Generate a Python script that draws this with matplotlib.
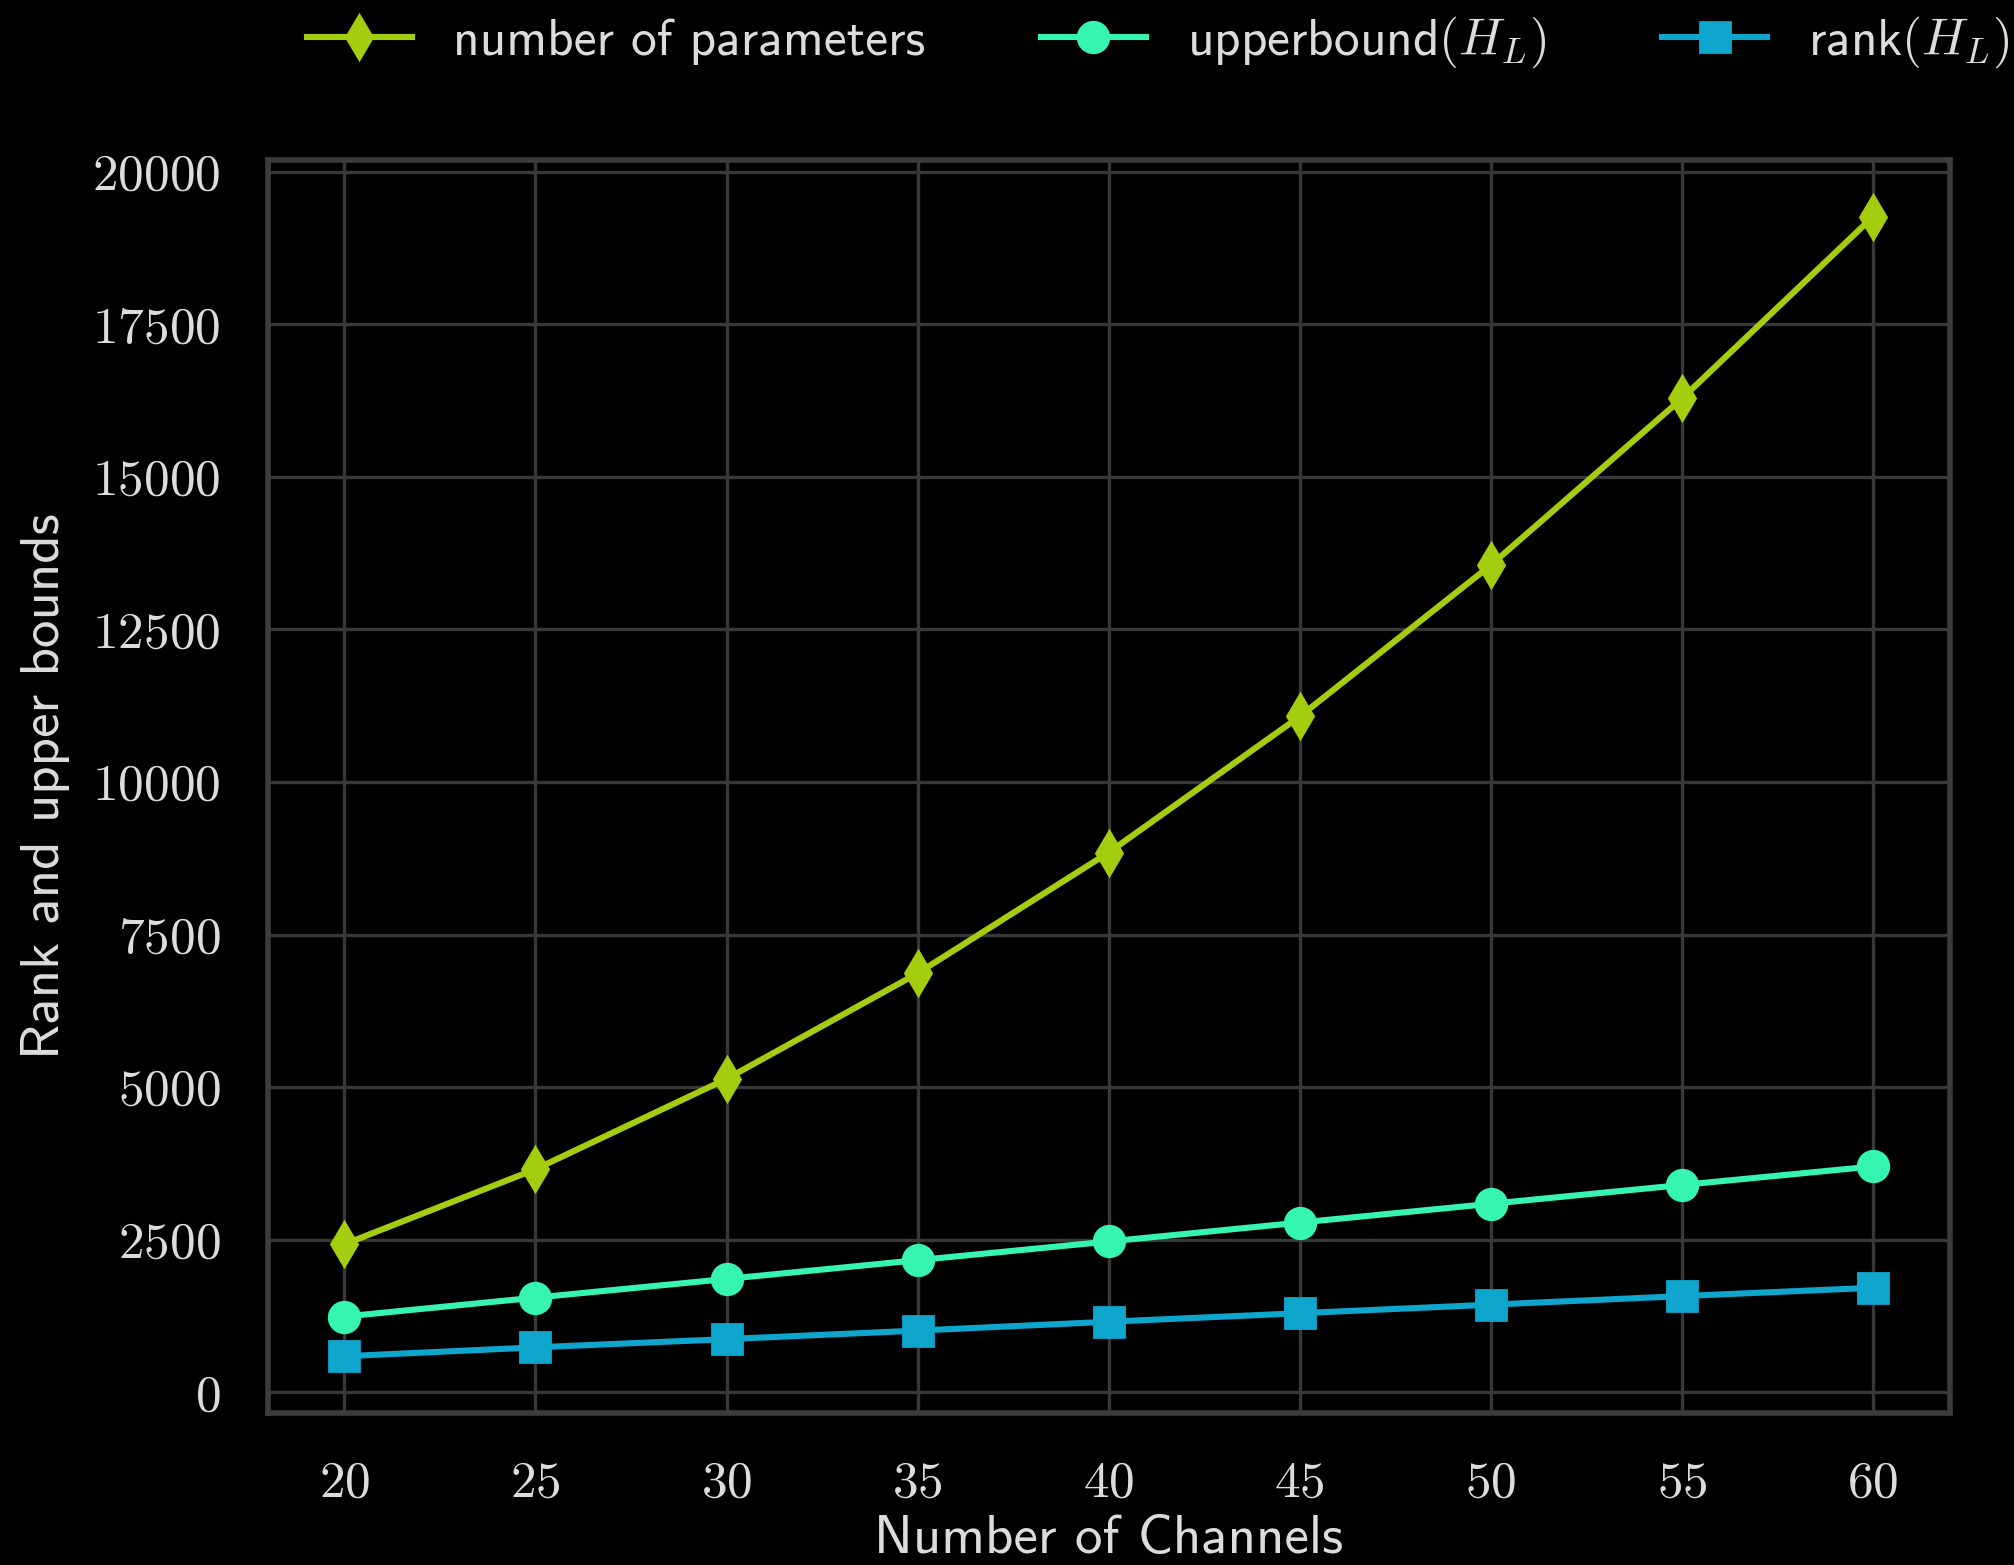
import matplotlib
matplotlib.use("Agg")
import matplotlib.pyplot as plt
from matplotlib.ticker import FuncFormatter

# values
channels = [20, 25, 30, 35, 40, 45, 50, 55, 60]
n_params = [2424, 3654, 5134, 6864, 8844, 11074, 13554, 16284, 19264]
upper_hl = [1240, 1550, 1856, 2164, 2470, 2780, 3088, 3396, 3700]
rank_hl = [590, 735, 870, 1010, 1155, 1295, 1435, 1575, 1712]

yticks = [0, 2500, 5000, 7500, 10000, 12500, 15000, 17500, 20000]

plt.rcParams['font.family'] = ['cmss10', 'DejaVu Sans']
plt.rcParams['mathtext.fontset'] = 'cm'
plt.rcParams['axes.formatter.use_mathtext'] = True
plt.rcParams['axes.unicode_minus'] = False

fg = '#dcdcdc'
grid_c = '#383838'

fig = plt.figure(figsize=(10.07, 7.825), dpi=200, facecolor='black')
ax = fig.add_axes([0.133, 0.097, 0.835, 0.801], facecolor='black')

ax.plot(channels, n_params, color='#a5cd0f', marker='d', markersize=11, lw=2.2,
        label='number of parameters')
ax.plot(channels, upper_hl, color='#35f5b0', marker='o', markersize=11, lw=2.2,
        label='upperbound$(H_L)$')
ax.plot(channels, rank_hl, color='#0ea6cc', marker='s', markersize=11, lw=2.2,
        label='rank$(H_L)$')

ax.set_xticks(channels)
ax.set_yticks(yticks)
ax.xaxis.set_major_formatter(FuncFormatter(lambda v, p: f'${v:.0f}$'))
ax.yaxis.set_major_formatter(FuncFormatter(lambda v, p: f'${v:.0f}$'))
ax.tick_params(length=0, pad=17, labelsize=18.5, colors=fg)

ax.grid(True, color=grid_c, lw=1.2)
ax.set_axisbelow(True)
for s in ax.spines.values():
    s.set_color('#3c3c3c')
    s.set_linewidth(2)

ax.set_xlabel('Number of Channels', fontsize=19.8, color=fg, labelpad=3)
ax.set_ylabel('Rank and upper bounds', fontsize=19.8, color=fg, labelpad=8)

fig.legend(loc='center', bbox_to_anchor=(0.575, 0.973), ncol=3, frameon=False,
           fontsize=18.5, labelcolor=fg, handlelength=2.05, columnspacing=2.25,
           handletextpad=0.8)

fig.savefig('out.png', dpi=200, facecolor='black')
